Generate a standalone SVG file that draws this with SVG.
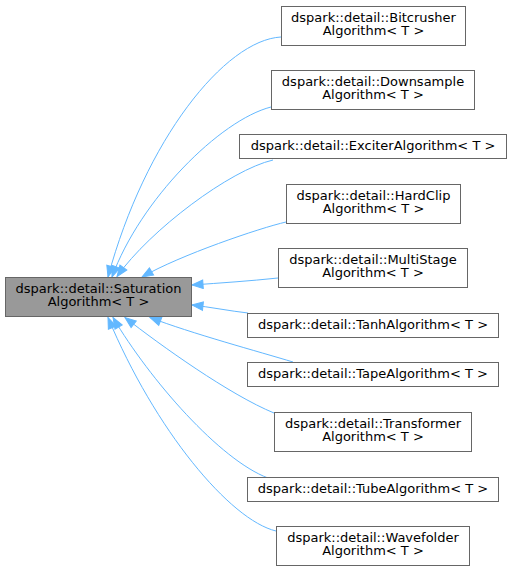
<svg xmlns="http://www.w3.org/2000/svg" width="512" height="572" viewBox="0 0 512 572">
<style>
.n rect{fill:#ffffff;stroke:#666666;stroke-width:1}
.m rect{fill:#999999;stroke:#666666;stroke-width:1}
text{font-family:"DejaVu Sans",sans-serif;font-size:13px;text-anchor:middle;fill:#000000}
.e path{fill:none;stroke:#63b8ff;stroke-width:1;marker-end:url(#ah)}
</style>
<defs>
<marker id="ah" markerUnits="userSpaceOnUse" orient="auto" overflow="visible" refX="0" refY="0" markerWidth="14" markerHeight="10">
<path d="M-11,-4.2 L0,0 L-11,4.2 Z" fill="#63b8ff" stroke="#63b8ff" stroke-width="1"/>
</marker>
</defs>
<g id="edges" class="e">
<path d="M281,37 C225,40 145,140 108,277"/>
<path d="M271,107 C220,120 140,200 112,277"/>
<path d="M273,160 C230,170 150,230 117,276.5"/>
<path d="M286,222 C260,228 180,255 142,277"/>
<path d="M278,278 C250,281 220,283 192,285"/>
<path d="M248,313 C230,311 210,307 192,305"/>
<path d="M293,362 C260,352 190,333 150,317.5"/>
<path d="M274,413 C230,395 160,345 125,317.5"/>
<path d="M268,478 C220,460 150,380 113,317.5"/>
<path d="M276,531 C230,520 155,430 108,317.5"/>
</g>
<g id="node_saturation" class="m"><rect x="5.5" y="277.5" width="186" height="39"/><text x="98.5" y="292.5">dspark::detail::Saturation</text><text x="98.5" y="306">Algorithm&lt; T &gt;</text></g>
<g id="node_bitcrusher" class="n"><rect x="281.5" y="6.5" width="184" height="39"/><text x="373.5" y="21.5">dspark::detail::Bitcrusher</text><text x="373.5" y="35">Algorithm&lt; T &gt;</text></g>
<g id="node_downsample" class="n"><rect x="271.5" y="70.5" width="203" height="39"/><text x="373" y="85.5">dspark::detail::Downsample</text><text x="373" y="99">Algorithm&lt; T &gt;</text></g>
<g id="node_exciter" class="n"><rect x="239.5" y="134.5" width="267" height="24"/><text x="373" y="150">dspark::detail::ExciterAlgorithm&lt; T &gt;</text></g>
<g id="node_hardclip" class="n"><rect x="286.5" y="184.5" width="174" height="39"/><text x="373.5" y="199.5">dspark::detail::HardClip</text><text x="373.5" y="213">Algorithm&lt; T &gt;</text></g>
<g id="node_multistage" class="n"><rect x="278.5" y="248.5" width="189" height="39"/><text x="373" y="263.5">dspark::detail::MultiStage</text><text x="373" y="277">Algorithm&lt; T &gt;</text></g>
<g id="node_tanh" class="n"><rect x="247.5" y="313.5" width="251" height="24"/><text x="373" y="329">dspark::detail::TanhAlgorithm&lt; T &gt;</text></g>
<g id="node_tape" class="n"><rect x="247.5" y="362.5" width="251" height="24"/><text x="373" y="378">dspark::detail::TapeAlgorithm&lt; T &gt;</text></g>
<g id="node_transformer" class="n"><rect x="274.5" y="412.5" width="197" height="39"/><text x="373" y="427.5">dspark::detail::Transformer</text><text x="373" y="441">Algorithm&lt; T &gt;</text></g>
<g id="node_tube" class="n"><rect x="247.5" y="477.5" width="251" height="24"/><text x="373" y="493">dspark::detail::TubeAlgorithm&lt; T &gt;</text></g>
<g id="node_wavefolder" class="n"><rect x="276.5" y="526.5" width="193" height="39"/><text x="373" y="541.5">dspark::detail::Wavefolder</text><text x="373" y="555">Algorithm&lt; T &gt;</text></g>
</svg>
